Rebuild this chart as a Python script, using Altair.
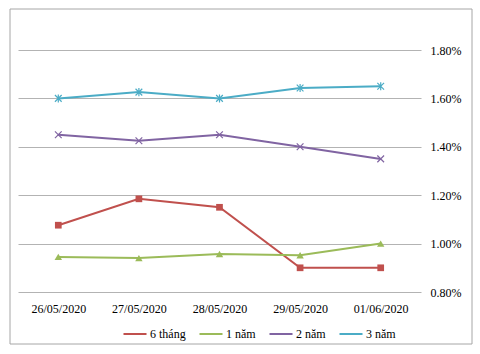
import altair as alt
import pandas as pd

dates = ["26/05/2020", "27/05/2020", "28/05/2020", "29/05/2020", "01/06/2020"]
series = ["6 tháng", "1 năm", "2 năm", "3 năm"]
v6 = [1.076, 1.185, 1.15, 0.90, 0.90]
v12 = [0.945, 0.94, 0.957, 0.952, 1.00]
v24 = [1.45, 1.425, 1.45, 1.40, 1.35]
v36 = [1.60, 1.626, 1.60, 1.643, 1.65]
y_ticks = [0.8, 1.0, 1.2, 1.4, 1.6, 1.8]
colors = ["#C0504D", "#9BBB59", "#8064A2", "#4BACC6"]

rows = []
for s, vals in zip(series, [v6, v12, v24, v36]):
    for d, v in zip(dates, vals):
        rows.append({"date": d, "series": s, "rate": v})
df = pd.DataFrame(rows)

FONT = "Liberation Serif"

x_enc = alt.X("date:N", sort=dates, scale=alt.Scale(type="point", padding=0.5),
              axis=alt.Axis(title=None, domain=False, ticks=False, labelAngle=0,
                            labelPadding=11, labelFont=FONT, labelFontSize=12,
                            labelColor="#000", grid=False))
y_enc = alt.Y("rate:Q", scale=alt.Scale(domain=[0.8, 1.8], nice=False, zero=False),
              axis=alt.Axis(title=None, orient="right", domain=False, ticks=False,
                            values=y_ticks, labelExpr="format(datum.value, '.2f') + '%'",
                            labelPadding=9, labelFont=FONT, labelFontSize=12,
                            labelColor="#000", grid=True, gridColor="#b3b3b3",
                            gridWidth=1))

base = alt.Chart(df)

lines = base.mark_line(strokeWidth=2).encode(
    x=x_enc, y=y_enc,
    color=alt.Color(
        "series:N", scale=alt.Scale(domain=series, range=colors),
        legend=alt.Legend(title=None, orient="none", legendX=104, legendY=271,
                          direction="horizontal", symbolType="stroke",
                          symbolSize=530, symbolStrokeWidth=2,
                          labelFont=FONT, labelFontSize=12, labelColor="#000",
                          labelOffset=2, columnPadding=9),
    ),
)

marker_specs = [
    ("6 tháng", colors[0], "square", True, 45),
    ("1 năm", colors[1], "triangle-up", True, 55),
    ("2 năm", colors[2], "M-1,-1L1,1M-1,1L1,-1", False, 45),
    ("3 năm", colors[3], "M-1,-1L1,1M-1,1L1,-1M0,-1.2L0,1.2", False, 45),
]
marker_layers = []
for name, col, shp, filled, size in marker_specs:
    marker_layers.append(
        base.transform_filter(alt.datum.series == name).mark_point(
            shape=shp, filled=filled, color=col, size=size, opacity=1,
            strokeWidth=1.2
        ).encode(x=x_enc, y=y_enc)
    )

border = alt.Chart(pd.DataFrame({"a": [0]})).mark_rect(
    fill="transparent", stroke="#a6a6a6", strokeWidth=1
).encode(x=alt.value(-8), x2=alt.value(454), y=alt.value(-41), y2=alt.value(294))

chart = alt.layer(border, lines, *marker_layers).properties(
    width=403, height=242,
    autosize=alt.AutoSizeParams(type="none"),
    padding={"left": 18, "top": 50, "right": 59, "bottom": 62},
    background="white",
).configure_view(strokeWidth=0)

chart.save("out.html", embed_options={"renderer": "svg", "actions": False})
